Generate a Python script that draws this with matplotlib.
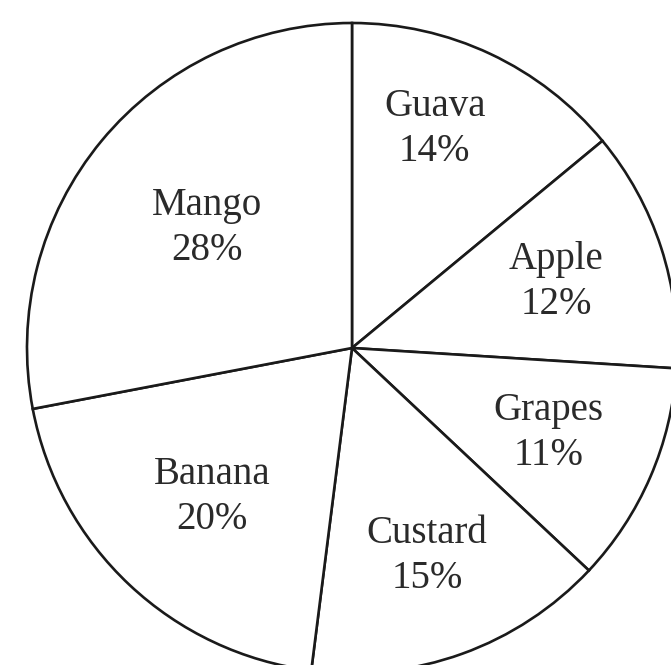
import matplotlib.pyplot as plt
import numpy as np

fruits = ['Guava', 'Apple', 'Grapes', 'Custard', 'Banana', 'Mango']
shares = [14, 12, 11, 15, 20, 28]

# label placement per slice: fraction of radius, angle nudge in degrees
label_dist = [0.72, 0.66, 0.66, 0.68, 0.63, 0.58]
label_turn = [4.5, 0, 0, 0, 0, 0]

W, H = 671, 665
figure = plt.figure(figsize=(W / 100, H / 100), dpi=100)
axes = figure.add_axes([0, 0, 1, 1])

center = (352, H - 348)
radius = 325
wedges, _ = axes.pie(shares, startangle=90, counterclock=False,
                     center=center, radius=radius, frame=True,
                     colors=['white'] * len(shares),
                     wedgeprops=dict(edgecolor='#1a1a1a', linewidth=1.9))
axes.set_xlim(0, W)
axes.set_ylim(0, H)
axes.set_aspect('equal')
axes.axis('off')

for wedge, name, share, dist, turn in zip(wedges, fruits, shares,
                                          label_dist, label_turn):
    mid = np.radians((wedge.theta1 + wedge.theta2) / 2 + turn)
    x = center[0] + dist * radius * np.cos(mid)
    y = center[1] + dist * radius * np.sin(mid)
    axes.text(x, y, '%s\n%d%%' % (name, share), ha='center', va='center',
              family='Liberation Serif', fontsize=28, color='#2a2a2a',
              linespacing=1.3)

figure.savefig('out.png', dpi=100)
